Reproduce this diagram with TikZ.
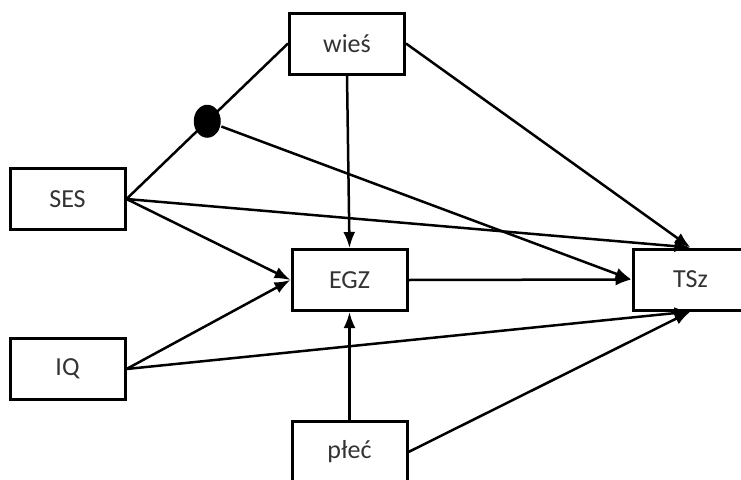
\documentclass[tikz,border=0pt]{standalone}
\usepackage{fontspec}
\setmainfont{Carlito}
\usetikzlibrary{arrows.meta,shapes.geometric}
\begin{document}
\begin{tikzpicture}[x=1pt,y=-1pt,
  box/.style={draw=black,line width=3pt,fill=white,minimum width=115pt,minimum height=61pt,
    inner sep=0pt,font=\fontsize{26}{30}\selectfont,text=black!80},
  link/.style={line width=2.5pt},
  arr/.style={link,-{Latex[length=16pt,width=12pt]}}]
  \useasboundingbox (0,0) rectangle (741,479);
  \clip (0,0) rectangle (741,479);

  % variables
  \node[box] (wies) at (347,43.5) {wieś};
  \node[box] (ses)  at (67.5,199) {SES};
  \node[box] (egz)  at (349.5,280) {EGZ};
  \node[box] (tsz)  at (690.5,279.5) {TSz};
  \node[box] (iq)   at (67.5,369) {IQ};
  \node[box] (plec) at (349.5,452) {płeć};

  % correlation of SES and wieś with its moderator point
  \draw[link] (ses.east) -- (wies.west) node[pos=0.5,ellipse,fill=black,minimum width=27pt,minimum height=33pt,inner sep=0pt] (dot) {};

  % paths
  \draw[arr] (dot) -- (tsz.west);
  \draw[arr] (wies.east) -- (tsz.north);
  \draw[arr] (ses.east) -- (tsz.north);
  \draw[arr] (wies.south) -- (egz.north);
  \draw[arr] (ses.east) -- (egz.west);
  \draw[arr] (iq.east) -- (egz.west);
  \draw[arr] (egz.east) -- (tsz.west);
  \draw[arr] (iq.east) -- (tsz.south);
  \draw[arr] (plec.north) -- (egz.south);
  \draw[arr] (plec.east) -- (tsz.south);
\end{tikzpicture}
\end{document}
